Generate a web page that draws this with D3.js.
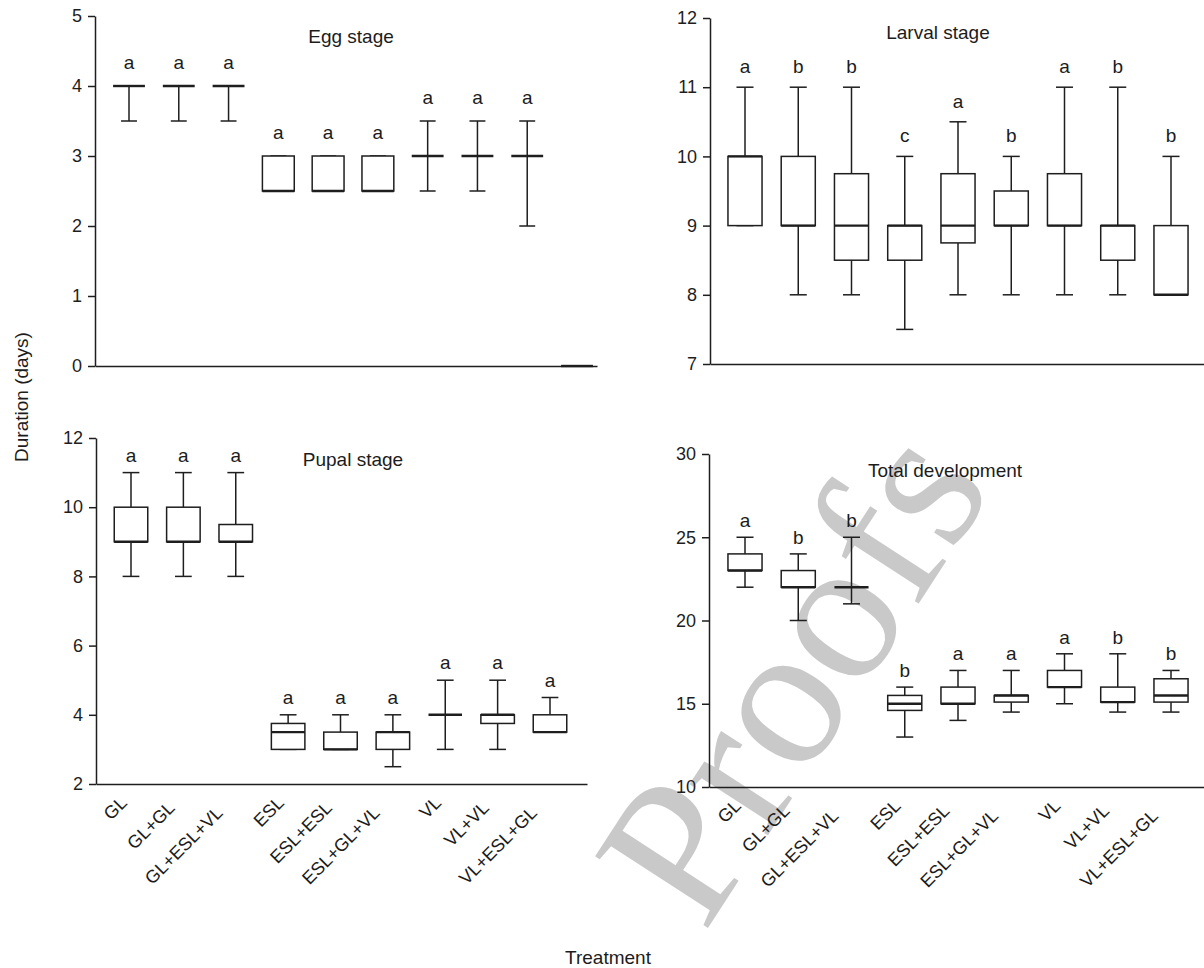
<!DOCTYPE html>
<html>
<head>
<meta charset="utf-8">
<script src="https://cdn.jsdelivr.net/npm/d3@7"></script>
<style>
  html, body { margin: 0; padding: 0; background: #fff; }
  svg { display: block; }
  text { font-family: "Liberation Sans", Arial, Helvetica, sans-serif; fill: #1c1c1c; }
</style>
</head>
<body>
<svg id="chart" width="1204" height="968"></svg>
<script>
// ---------------- DATA ----------------
const categories = ["GL", "GL+GL", "GL+ESL+VL", "ESL", "ESL+ESL", "ESL+GL+VL", "VL", "VL+VL", "VL+ESL+GL"];
// egg panel has one extra, empty slot at the end (flat box at 0)
const eggCategories = categories.concat([""]);

const eggMin    = [3.5, 3.5, 3.5, 2.5, 2.5, 2.5, 2.5, 2.5, 2.0, 0];
const eggQ1     = [4, 4, 4, 2.5, 2.5, 2.5, 3, 3, 3, 0];
const eggMedian = [4, 4, 4, 2.5, 2.5, 2.5, 3, 3, 3, 0];
const eggQ3     = [4, 4, 4, 3, 3, 3, 3, 3, 3, 0];
const eggMax    = [4, 4, 4, 3, 3, 3, 3.5, 3.5, 3.5, 0];
const eggLetters = ["a", "a", "a", "a", "a", "a", "a", "a", "a", ""];
const eggTicks = [0, 1, 2, 3, 4, 5];

const larvalMin    = [9, 8, 8, 7.5, 8, 8, 8, 8, 8];
const larvalQ1     = [9, 9, 8.5, 8.5, 8.75, 9, 9, 8.5, 8];
const larvalMedian = [10, 9, 9, 9, 9, 9, 9, 9, 8];
const larvalQ3     = [10, 10, 9.75, 9, 9.75, 9.5, 9.75, 9, 9];
const larvalMax    = [11, 11, 11, 10, 10.5, 10, 11, 11, 10];
const larvalLetters = ["a", "b", "b", "c", "a", "b", "a", "b", "b"];
const larvalTicks = [7, 8, 9, 10, 11, 12];

const pupalMin    = [8, 8, 8, 3, 3, 2.5, 3, 3, 3.5];
const pupalQ1     = [9, 9, 9, 3, 3, 3, 4, 3.75, 3.5];
const pupalMedian = [9, 9, 9, 3.5, 3, 3.5, 4, 4, 3.5];
const pupalQ3     = [10, 10, 9.5, 3.75, 3.5, 3.5, 4, 4, 4];
const pupalMax    = [11, 11, 11, 4, 4, 4, 5, 5, 4.5];
const pupalLetters = ["a", "a", "a", "a", "a", "a", "a", "a", "a"];
const pupalTicks = [2, 4, 6, 8, 10, 12];

const totalMin    = [22, 20, 21, 13, 14, 14.5, 15, 14.5, 14.5];
const totalQ1     = [23, 22, 22, 14.6, 15, 15.1, 16, 15.1, 15.1];
const totalMedian = [23, 22, 22, 15, 15, 15.5, 16, 15.1, 15.5];
const totalQ3     = [24, 23, 22, 15.5, 16, 15.5, 17, 16, 16.5];
const totalMax    = [25, 24, 25, 16, 17, 17, 18, 18, 17];
const totalLetters = ["a", "b", "b", "b", "a", "a", "a", "b", "b"];
const totalTicks = [10, 15, 20, 25, 30];

// ---------------- LAYOUT ----------------
const INK = "#1e1e1e";
const svg = d3.select("#chart");

// watermark (drawn behind everything)
svg.append("text")
  .attr("transform", "translate(704,934) rotate(-57)")
  .style("font-family", "'Liberation Serif', 'DejaVu Serif', serif")
  .style("font-size", "204px")
  .style("fill", "#c9c9c9")
  .text("Proofs");

const panels = [
  { title: "Egg stage", titlePos: [351, 43], cats: eggCategories,
    min: eggMin, q1: eggQ1, med: eggMedian, q3: eggQ3, max: eggMax, letters: eggLetters, ticks: eggTicks,
    left: 95, right: 597, top: 16, bottom: 366, xFirst: 129, xLast: 577, letterGap: 17, xLabels: false },
  { title: "Larval stage", titlePos: [938, 39], cats: categories,
    min: larvalMin, q1: larvalQ1, med: larvalMedian, q3: larvalQ3, max: larvalMax, letters: larvalLetters, ticks: larvalTicks,
    left: 710, right: 1204, top: 18, bottom: 364, xFirst: 745, xLast: 1171, letterGap: 14, xLabels: false },
  { title: "Pupal stage", titlePos: [353, 466], cats: categories,
    min: pupalMin, q1: pupalQ1, med: pupalMedian, q3: pupalQ3, max: pupalMax, letters: pupalLetters, ticks: pupalTicks,
    left: 96, right: 587, top: 438, bottom: 784, xFirst: 131, xLast: 550, letterGap: 11, xLabels: true },
  { title: "Total development", titlePos: [945, 477], cats: categories,
    min: totalMin, q1: totalQ1, med: totalMedian, q3: totalQ3, max: totalMax, letters: totalLetters, ticks: totalTicks,
    left: 709, right: 1204, top: 454, bottom: 787, xFirst: 745, xLast: 1171, letterGap: 10, xLabels: true }
];

panels.forEach(p => {
  const g = svg.append("g");
  const y = d3.scaleLinear().domain(d3.extent(p.ticks)).range([p.bottom, p.top]);
  const x = d3.scalePoint().domain(p.cats).range([p.xFirst, p.xLast]);
  const step = x.step();
  const bw = step * 0.64;
  const cw = step * 0.32;

  // y axis
  const yAxis = d3.axisLeft(y).tickValues(p.ticks).tickFormat(d3.format("d"))
    .tickSize(7).tickPadding(6).tickSizeOuter(0);
  const ya = g.append("g").attr("transform", `translate(${p.left},0)`).call(yAxis);
  ya.selectAll("path, line").attr("stroke", INK).attr("stroke-width", 1.5);
  ya.selectAll("text").style("font-size", "18px").style("fill", INK)
    .style("font-family", "'Liberation Sans', Arial, sans-serif");

  // x axis line (no ticks)
  const xAxisScale = d3.scaleLinear().domain([0, 1]).range([p.left, p.right]);
  const xa = g.append("g").attr("transform", `translate(0,${p.bottom})`)
    .call(d3.axisBottom(xAxisScale).tickValues([]).tickSizeOuter(0));
  xa.select("path").attr("stroke", INK).attr("stroke-width", 1.5);

  // title
  g.append("text").attr("x", p.titlePos[0]).attr("y", p.titlePos[1])
    .attr("text-anchor", "middle").style("font-size", "19px").text(p.title);

  // boxes
  p.cats.forEach((c, i) => {
    const cx = x(c);
    const b = g.append("g").attr("stroke", INK).attr("stroke-width", 1.5).attr("fill", "none");
    // whiskers
    b.append("line").attr("x1", cx).attr("x2", cx).attr("y1", y(p.min[i])).attr("y2", y(p.q1[i]));
    b.append("line").attr("x1", cx).attr("x2", cx).attr("y1", y(p.q3[i])).attr("y2", y(p.max[i]));
    // caps
    b.append("line").attr("x1", cx - cw / 2).attr("x2", cx + cw / 2).attr("y1", y(p.min[i])).attr("y2", y(p.min[i]));
    b.append("line").attr("x1", cx - cw / 2).attr("x2", cx + cw / 2).attr("y1", y(p.max[i])).attr("y2", y(p.max[i]));
    // box
    b.append("rect").attr("x", cx - bw / 2).attr("width", bw)
      .attr("y", y(p.q3[i])).attr("height", Math.max(0, y(p.q1[i]) - y(p.q3[i])))
      .attr("fill", "#fff");
    // median
    b.append("line").attr("x1", cx - bw / 2).attr("x2", cx + bw / 2)
      .attr("y1", y(p.med[i])).attr("y2", y(p.med[i])).attr("stroke-width", 2.4);
    // significance letter
    if (p.letters[i]) {
      g.append("text").attr("x", cx).attr("y", y(p.max[i]) - p.letterGap)
        .attr("text-anchor", "middle").style("font-size", "19px").text(p.letters[i]);
    }
  });

  // rotated category labels
  if (p.xLabels) {
    p.cats.forEach((c, i) => {
      const k = i % 3;
      const tx = x(c) - 3 - 4.5 * k;
      const ty = p.bottom + 20 + 5 * k;
      g.append("text")
        .attr("transform", `translate(${tx},${ty}) rotate(-45)`)
        .attr("text-anchor", "end")
        .style("font-size", "18px")
        .text(c);
    });
  }
});

// axis titles
svg.append("text").attr("transform", "translate(28,397) rotate(-90)")
  .attr("text-anchor", "middle").style("font-size", "19px").text("Duration (days)");
svg.append("text").attr("x", 608).attr("y", 964)
  .attr("text-anchor", "middle").style("font-size", "19px").text("Treatment");
</script>
</body>
</html>
